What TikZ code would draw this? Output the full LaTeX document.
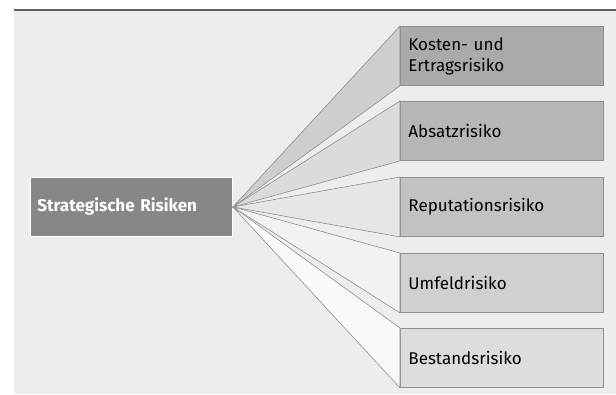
\documentclass[tikz,border=0pt]{standalone}
\usepackage{fontspec}
\setmainfont{Fira Sans}
\definecolor{bgc}{HTML}{ECEDED}
\definecolor{topline}{HTML}{5F5F5F}
\definecolor{mainc}{HTML}{878787}
\definecolor{edgec}{HTML}{8E8E8E}
\definecolor{bA}{HTML}{A9AAAC}
\definecolor{bB}{HTML}{B5B6B8}
\definecolor{bC}{HTML}{C1C2C4}
\definecolor{bD}{HTML}{CFD0D2}
\definecolor{bE}{HTML}{DCDDDE}
\definecolor{fA}{HTML}{CDCECF}
\definecolor{fB}{HTML}{DADBDC}
\definecolor{fC}{HTML}{E5E6E6}
\definecolor{fD}{HTML}{F1F2F2}
\definecolor{fE}{HTML}{F8F9F9}
\tikzset{
  riskbox/.style={draw=edgec, line width=0.9pt, minimum width=203pt, minimum height=59pt,
    inner sep=0pt, anchor=north west, text width=187pt, align=left, font=\fontsize{17}{21}\selectfont},
  fan/.style={draw=edgec, line width=0.6pt, line join=miter},
  mainbox/.style={draw=white, line width=0.9pt, fill=mainc, minimum width=202pt, minimum height=59pt,
    inner sep=0pt, anchor=north west, text width=188pt, align=left, text=white,
    font=\bfseries\fontsize{17}{21}\selectfont}
}
\begin{document}
\begin{tikzpicture}[x=1pt,y=-1pt]
\useasboundingbox (0,0) rectangle (616,394);
\fill[bgc] (14,11) rectangle (616,394);
\draw[topline, line width=1.6pt] (14,10) -- (616,10);
\node[mainbox] (main) at (30,177) {Strategische Risiken};
\coordinate (o) at (main.east);
\node[riskbox, fill=bA] (r1) at (400,26) {Kosten- und\\Ertragsrisiko};
\node[riskbox, fill=bB] (r2) at (400,101) {Absatzrisiko};
\node[riskbox, fill=bC] (r3) at (400,177) {Reputationsrisiko};
\node[riskbox, fill=bD] (r4) at (400,253) {Umfeldrisiko};
\node[riskbox, fill=bE] (r5) at (400,328) {Bestandsrisiko};
\draw[fan, fill=fA] (o) -- (r1.north west) -- (r1.south west) -- cycle;
\draw[fan, fill=fB] (o) -- (r2.north west) -- (r2.south west) -- cycle;
\draw[fan, fill=fC] (o) -- (r3.north west) -- (r3.south west) -- cycle;
\draw[fan, fill=fD] (o) -- (r4.north west) -- (r4.south west) -- cycle;
\draw[fan, fill=fE] (o) -- (r5.north west) -- (r5.south west) -- cycle;
\end{tikzpicture}
\end{document}
